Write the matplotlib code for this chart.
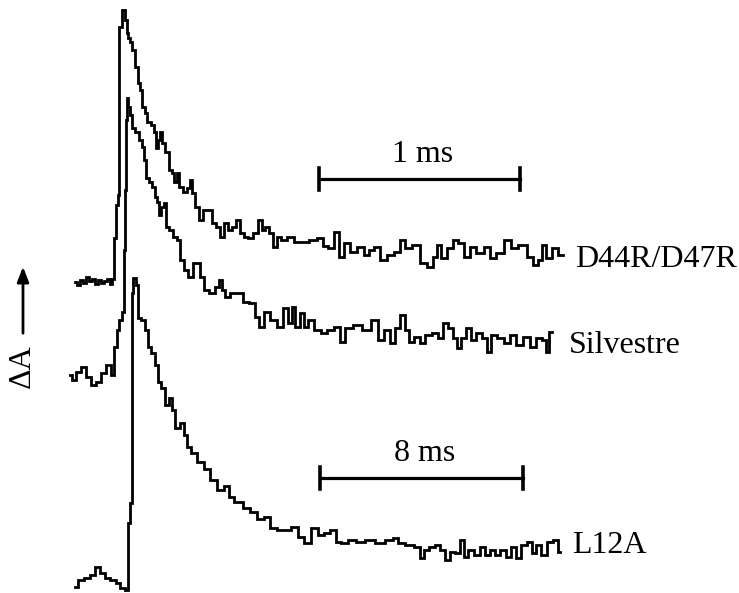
import matplotlib
matplotlib.use("Agg")
import matplotlib.pyplot as plt

# traces (x = time axis, y = absorbance, both in scan pixels, y grows downward)
d44_x = [75, 78, 81, 84, 87, 90, 93, 96, 99, 102, 105, 108, 111, 113, 114, 117, 118, 120, 123, 126,
         127, 129, 131, 133, 137, 138, 141, 143, 146, 148, 153, 155, 157, 159, 161, 163, 167, 170,
         173, 175, 178, 180, 185, 188, 191, 193, 197, 200, 205, 210, 213, 218, 222, 225, 230, 233,
         238, 242, 245, 250, 255, 260, 263, 267, 270, 275, 278, 283, 290, 297, 305, 313, 320, 325,
         330, 337, 340, 347, 353, 360, 367, 370, 377, 383, 390, 397, 402, 407, 417, 423, 430, 435,
         438, 443, 450, 455, 460, 467, 472, 480, 487, 492, 500, 508, 513, 523, 530, 535, 540, 543,
         548, 555, 560, 563]
d44_y = [282, 285, 280, 283, 277, 281, 279, 284, 280, 283, 281, 279, 284, 279, 238, 205, 195, 27, 10, 20,
         33, 38, 42, 50, 67, 83, 90, 107, 113, 122, 125, 132, 148, 140, 132, 143, 152, 170,
         173, 182, 173, 187, 192, 188, 180, 193, 207, 220, 210, 210, 223, 227, 237, 223, 230, 227,
         220, 233, 237, 238, 233, 220, 230, 227, 233, 247, 237, 240, 237, 242, 242, 240, 238, 246,
         248, 232, 257, 243, 252, 247, 255, 250, 247, 260, 255, 252, 240, 248, 245, 263, 267, 257,
         245, 258, 248, 240, 243, 257, 247, 253, 247, 258, 253, 240, 248, 245, 257, 265, 260, 245,
         258, 248, 255, 255]

sil_x = [70, 73, 78, 83, 88, 93, 98, 103, 108, 113, 115, 118, 120, 123, 124, 125, 126, 127, 129,
         131, 133, 137, 140, 143, 145, 147, 150, 153, 156, 158, 159, 162, 165, 167, 170, 175, 178,
         182, 185, 190, 195, 198, 202, 205, 212, 217, 220, 223, 227, 233, 240, 245, 252, 257, 260,
         267, 273, 280, 285, 290, 293, 297, 302, 305, 310, 318, 323, 330, 337, 342, 348, 357, 367,
         375, 380, 387, 392, 397, 403, 407, 410, 417, 422, 428, 435, 440, 445, 450, 455, 458, 463,
         468, 473, 478, 485, 488, 493, 500, 507, 513, 518, 527, 533, 538, 545, 547, 550, 552]
sil_y = [375, 380, 372, 367, 377, 385, 382, 373, 365, 375, 347, 330, 320, 312, 250, 190, 120, 98, 107,
         115, 128, 132, 140, 147, 160, 178, 182, 187, 197, 202, 215, 207, 203, 227, 230, 237, 240,
         260, 270, 277, 263, 263, 277, 290, 293, 287, 280, 290, 297, 293, 293, 302, 303, 317, 327,
         312, 320, 327, 308, 323, 307, 327, 313, 327, 320, 330, 333, 330, 327, 342, 328, 325, 330,
         320, 340, 330, 343, 328, 315, 330, 342, 337, 343, 335, 333, 338, 323, 328, 338, 348, 338,
         328, 340, 333, 338, 352, 335, 338, 343, 335, 345, 337, 347, 338, 340, 352, 332, 332]

l12_x = [75, 80, 87, 92, 97, 102, 107, 113, 118, 122, 127, 129, 131, 132, 134, 137, 139, 143, 147,
         149, 153, 157, 159, 163, 167, 171, 173, 177, 182, 185, 188, 193, 200, 207, 213, 220, 227,
         230, 238, 247, 253, 260, 267, 273, 280, 287, 295, 300, 307, 315, 320, 327, 333, 338, 343,
         352, 360, 370, 380, 390, 395, 400, 410, 417, 422, 425, 432, 438, 442, 447, 452, 457, 462,
         465, 470, 477, 482, 487, 492, 497, 503, 508, 513, 518, 523, 530, 533, 538, 543, 550, 555, 560]
l12_y = [587, 580, 578, 575, 567, 573, 578, 580, 583, 588, 590, 523, 503, 293, 278, 285, 318, 320, 330,
         347, 353, 365, 382, 388, 405, 398, 410, 428, 423, 435, 447, 453, 462, 469, 480, 490, 486,
         497, 502, 508, 512, 519, 517, 528, 530, 530, 527, 537, 543, 528, 535, 533, 530, 542, 543,
         540, 542, 540, 543, 540, 538, 543, 545, 547, 558, 550, 547, 545, 550, 560, 552, 553, 540,
         557, 550, 555, 547, 555, 550, 555, 550, 557, 547, 558, 545, 542, 553, 545, 555, 542, 540, 552]

labels = ["D44R/D47R", "Silvestre", "L12A"]
label_pos = [(575, 267), (569, 353), (572, 553)]

# scale bars: (x start, x end, y, text)
bars = [(319, 520, 179, "1 ms"), (320, 523, 478, "8 ms")]

fig = plt.figure(figsize=(7.39, 5.93), dpi=100)
ax = fig.add_axes([0, 0, 1, 1])
ax.set_xlim(0, 739)
ax.set_ylim(593, 0)
ax.axis("off")

lw = 2.0
for xs, ys in [(d44_x, d44_y), (sil_x, sil_y), (l12_x, l12_y)]:
    ax.plot(xs, ys, color="black", lw=lw, drawstyle="steps-mid", solid_joinstyle="miter")

font = {"family": "Liberation Serif", "size": 23}
for name, (lx, ly) in zip(labels, label_pos):
    ax.text(lx, ly, name, ha="left", va="baseline", **font)

for x0, x1, yb, txt in bars:
    ax.plot([x0, x1], [yb, yb], color="black", lw=2.3)
    ax.plot([x0, x0], [yb - 11, yb + 11], color="black", lw=2.6)
    ax.plot([x1, x1], [yb - 11, yb + 11], color="black", lw=2.6)
    ax.text((x0 + x1) / 2 + 3, yb - 17, txt, ha="center", va="baseline", **font)

# ΔA label with upward arrow
ax.annotate("", xy=(23, 264), xytext=(23, 336),
            arrowprops=dict(arrowstyle="-|>,head_length=0.9,head_width=0.35", color="black", lw=2.0))
ax.text(22, 366, "ΔA", rotation=90, ha="center", va="center", **font)

fig.savefig("out.png", dpi=100)
